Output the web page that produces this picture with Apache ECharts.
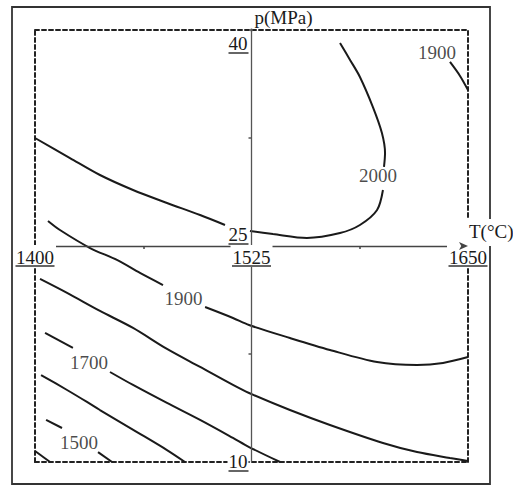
<!DOCTYPE html>
<html>
<head>
<meta charset="utf-8">
<script src="https://cdn.jsdelivr.net/npm/echarts@6/dist/echarts.min.js"></script>
<style>
html,body{margin:0;padding:0;background:#fff;}
#chart{width:513px;height:486px;}
</style>
</head>
<body>
<div id="chart"></div>
<script>
// ---- data ----
const T_MIN = 1400, T_MAX = 1650, T_STEP = 125;
const P_MIN = 10, P_MAX = 40, P_STEP = 15;
const tTickLabels = [1400, 1525, 1650];
const pTickLabels = [10, 25, 40];
const xName = 'T(°C)';
const yName = 'p(MPa)';

// contour lines, [T, p]; each contour split where its label interrupts it
const c2000a = [[1400,32.5],[1420.2,31.11],[1437.5,29.93],[1456.6,28.89],[1476.2,27.99],[1495.3,27.15],[1509.7,26.46]];
const c2000b = [[1524.1,26.04],[1537.4,25.83],[1557.0,25.56],[1576.1,25.9],[1587.6,26.46],[1597.5,27.5],[1600.9,28.89]];
const c2000c = [[1601.5,30.49],[1602.1,31.46],[1600.3,32.85],[1595.1,34.65],[1587.6,36.74],[1581.9,37.92],[1576.1,39.1]];
const c1900a = [[1639.6,37.78],[1645.4,36.81],[1650,35.83]];
const c1900b = [[1407.5,26.74],[1414.4,26.11],[1431.8,24.86],[1447.3,24.03],[1460.6,23.13],[1473.9,22.29]];
const c1900c = [[1498.2,20.76],[1514.3,20.0],[1523.6,19.51],[1547.2,18.61],[1570.3,17.78],[1597.5,16.94],[1620.6,16.74],[1635.6,16.88],[1650,17.29]];
const c1800 = [[1402.9,22.71],[1418.5,21.74],[1437.5,20.49],[1456.6,19.31],[1476.2,17.85],[1495.3,16.6],[1514.3,15.35],[1523.6,14.79],[1547.2,13.61],[1570.3,12.57],[1600.9,11.32],[1620.6,10.69],[1639.6,10.28],[1650,10.07]];
const c1700a = [[1405.8,18.96],[1421.9,17.92]];
const c1700b = [[1443.3,16.25],[1456.6,15.35],[1476.2,14.1],[1495.3,12.92],[1514.3,11.67],[1523.6,11.04],[1541.5,10.0]];
const c1600 = [[1403.5,16.04],[1418.5,15.0],[1430.0,14.17],[1437.5,13.61],[1458.9,12.08],[1476.2,10.83],[1486.6,10.0]];
const c1500a = [[1406.4,12.92],[1415.6,12.36]];
const c1500b = [[1436.4,10.69],[1444.5,10.0]];
const c1400 = [[1400,10.76],[1408.7,10.0]];
const contourLabels = [[1632.1,38.47,'1900'],[1598.0,29.93,'2000'],[1485.7,21.35,'1900'],[1431.2,16.94,'1700'],[1425.4,11.32,'1500']];

// ---- chart ----
const FONT = "'Liberation Serif', 'DejaVu Serif', serif";
const FS = 19;
const INK = '#1a1a1a';
const segments = [c2000a,c2000b,c2000c,c1900a,c1900b,c1900c,c1800,c1700a,c1700b,c1600,c1500a,c1500b,c1400];

const lineSeries = segments.map(seg => ({
  type: 'line', data: seg, xAxisIndex: 0, yAxisIndex: 0,
  showSymbol: false, symbol: 'none', smooth: 0.3, silent: true,
  lineStyle: {color: INK, width: 2}, z: 3
}));

const labelSeries = {
  type: 'scatter', data: contourLabels, xAxisIndex: 0, yAxisIndex: 0,
  symbolSize: 0, silent: true, z: 4, itemStyle: {color: INK},
  label: {show: true, position: 'inside', formatter: p => p.value[2],
          fontFamily: FONT, fontSize: FS, color: INK, textBorderWidth: 0, textBorderColor: 'transparent'}
};

const dashedLine = {show: true, onZero: false, lineStyle: {color: '#222', width: 2, type: [4, 3]}};

const xRich = {
  t: {fontFamily: FONT, fontSize: FS, lineHeight: 18, color: INK, backgroundColor: '#fff', padding: [3,2,0,2]},
  u: {width: 39, height: 1.5, lineHeight: 2, fontSize: 1, backgroundColor: '#333'}
};
const yRich = {
  t: {fontFamily: FONT, fontSize: FS, lineHeight: 18, color: INK, backgroundColor: '#fff', padding: [1,1,1,1]},
  u: {width: 20, height: 1.5, lineHeight: 2, fontSize: 1, backgroundColor: '#333'},
  s28: {fontSize: 1, height: 28, lineHeight: 28},
  s22: {fontSize: 1, height: 22, lineHeight: 22}
};

const option = {
  animation: false,
  backgroundColor: '#fff',
  grid: [
    {left: 35, right: 45, top: 30, bottom: 24, show: false, containLabel: false, outerBoundsMode: 'none'},
    {left: 12, right: 23, top: 7, bottom: 2, show: true, borderColor: '#333', borderWidth: 1.8,
     backgroundColor: 'transparent', containLabel: false, outerBoundsMode: 'none'}
  ],
  xAxis: [
    {
      type: 'value', gridIndex: 0, min: T_MIN, max: T_MAX, interval: T_STEP,
      position: 'bottom', offset: -216, z: 5,
      name: xName, nameLocation: 'end', nameGap: -2, nameMoveOverlap: false,
      nameTextStyle: {fontFamily: FONT, fontSize: FS, color: INK, align: 'left', verticalAlign: 'bottom',
                      backgroundColor: '#fff', padding: [3,0,5,3]},
      axisLine: {show: true, onZero: false, symbol: ['none','arrow'], symbolSize: [6,9], lineStyle: {color: '#444', width: 1.4}},
      axisTick: {show: false},
      minorTick: {show: true, splitNumber: 2, length: 3, lineStyle: {color: '#444', width: 1.5}},
      splitLine: {show: false}, minorSplitLine: {show: false},
      axisLabel: {
        margin: 1, showMinLabel: true, showMaxLabel: true,
        formatter: v => tTickLabels.includes(v) ? '{t|' + v + '}\n{u| }' : '',
        rich: xRich
      }
    },
    {type: 'value', gridIndex: 0, min: T_MIN, max: T_MAX, position: 'bottom', offset: 0, z: 1,
     axisLine: dashedLine, axisTick: {show: false}, axisLabel: {show: false}, splitLine: {show: false}},
    {type: 'value', gridIndex: 0, min: T_MIN, max: T_MAX, position: 'top', offset: 0, z: 1,
     axisLine: dashedLine, axisTick: {show: false}, axisLabel: {show: false}, splitLine: {show: false}},
    {type: 'value', gridIndex: 1, min: 0, max: 1, show: false}
  ],
  yAxis: [
    {
      type: 'value', gridIndex: 0, min: P_MIN, max: P_MAX, interval: P_STEP,
      position: 'left', offset: -216.5, z: 5,
      name: yName, nameLocation: 'end', nameGap: 2, nameMoveOverlap: false,
      nameTextStyle: {fontFamily: FONT, fontSize: FS, color: INK, align: 'left', verticalAlign: 'bottom', padding: [0,0,1,3]},
      axisLine: {show: true, onZero: false, symbol: ['none','circle'], symbolSize: [3,3], lineStyle: {color: '#555', width: 1.3}},
      axisTick: {show: false},
      minorTick: {show: true, splitNumber: 2, length: 3, lineStyle: {color: '#555', width: 1.5}},
      splitLine: {show: false}, minorSplitLine: {show: false},
      axisLabel: {
        margin: 3, showMinLabel: true, showMaxLabel: true,
        formatter: v => {
          if (!pTickLabels.includes(v)) return '';
          if (v === P_MAX) return '{s28| }\n{t|' + v + '}\n{u| }';
          if (v === P_MIN) return '{t|' + v + '}\n{u| }';
          return '{t|' + v + '}\n{u| }\n{s22| }';
        },
        rich: yRich
      }
    },
    {type: 'value', gridIndex: 0, min: P_MIN, max: P_MAX, position: 'left', offset: 0, z: 1,
     axisLine: dashedLine, axisTick: {show: false}, axisLabel: {show: false}, splitLine: {show: false}},
    {type: 'value', gridIndex: 0, min: P_MIN, max: P_MAX, position: 'right', offset: 0, z: 1,
     axisLine: dashedLine, axisTick: {show: false}, axisLabel: {show: false}, splitLine: {show: false}},
    {type: 'value', gridIndex: 1, min: 0, max: 1, show: false}
  ],
  series: lineSeries.concat([labelSeries])
};

const chart = echarts.init(document.getElementById('chart'), null, {renderer: 'svg'});
chart.setOption(option);
</script>
</body>
</html>
